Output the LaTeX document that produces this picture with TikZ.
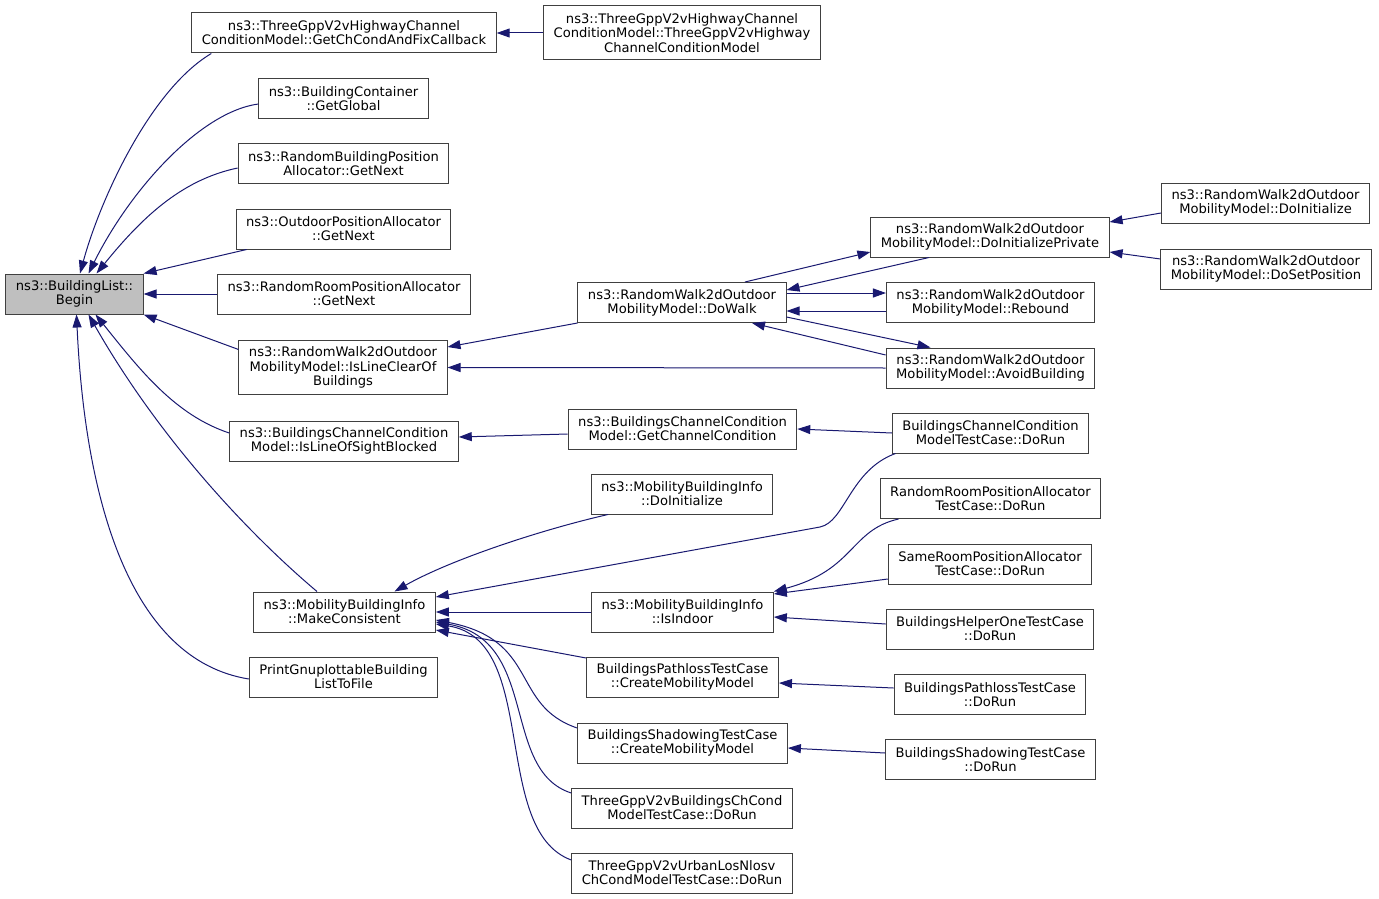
\documentclass[tikz,border=0pt]{standalone}
\usepackage{fontspec}
\setmainfont{DejaVu Sans}
\usetikzlibrary{arrows.meta}
\definecolor{edgeblue}{HTML}{191970}
\definecolor{boxline}{HTML}{404040}

\begin{document}
\begin{tikzpicture}[
  x=1pt, y=-1pt,
  font=\fontsize{13.1}{14.2}\selectfont,
  fn/.style={draw=boxline, line width=1pt, fill=white, align=center, inner xsep=10pt, inner ysep=2pt, minimum height=40pt},
  fn3/.style={fn, minimum height=54pt},
  root/.style={fn, fill=black!25},
  arr/.style={-{Triangle[length=13pt,width=9pt]}, draw=edgeblue, line width=1pt}
]
\useasboundingbox (0,0) rectangle (1379,899);

% root and its direct callers
\node[root] (begin) at (74.5,294) {ns3::BuildingList::\\Begin};
\node[fn] (getChCond) at (344,33) {ns3::ThreeGppV2vHighwayChannel\\ConditionModel::GetChCondAndFixCallback};
\node[fn] (getGlobal) at (343.5,98.5) {ns3::BuildingContainer\\::GetGlobal};
\node[fn] (rbpaNext) at (343.5,163.5) {ns3::RandomBuildingPosition\\Allocator::GetNext};
\node[fn] (opaNext) at (343.5,229) {ns3::OutdoorPositionAllocator\\::GetNext};
\node[fn] (rrpaNext) at (344,294) {ns3::RandomRoomPositionAllocator\\::GetNext};
\node[fn3] (isLineClear) at (343,367.5) {ns3::RandomWalk2dOutdoor\\MobilityModel::IsLineClearOf\\Buildings};
\node[fn] (isLosBlocked) at (344,441) {ns3::BuildingsChannelCondition\\Model::IsLineOfSightBlocked};
\node[fn] (makeCons) at (344.5,612) {ns3::MobilityBuildingInfo\\::MakeConsistent};
\node[fn] (printGnu) at (343.5,677) {PrintGnuplottableBuilding\\ListToFile};

% second column
\node[fn3] (v2vHwCtor) at (682,33) {ns3::ThreeGppV2vHighwayChannel\\ConditionModel::ThreeGppV2vHighway\\ChannelConditionModel};
\node[fn] (doWalk) at (682,302.5) {ns3::RandomWalk2dOutdoor\\MobilityModel::DoWalk};
\node[fn] (getChanCond) at (682.5,429) {ns3::BuildingsChannelCondition\\Model::GetChannelCondition};
\node[fn] (mbiDoInit) at (682,494) {ns3::MobilityBuildingInfo\\::DoInitialize};
\node[fn] (isIndoor) at (682.5,612) {ns3::MobilityBuildingInfo\\::IsIndoor};
\node[fn] (plCreate) at (682.5,677) {BuildingsPathlossTestCase\\::CreateMobilityModel};
\node[fn] (shCreate) at (682.5,743) {BuildingsShadowingTestCase\\::CreateMobilityModel};
\node[fn] (v2vBldRun) at (682,808) {ThreeGppV2vBuildingsChCond\\ModelTestCase::DoRun};
\node[fn] (v2vUrbanRun) at (682,873) {ThreeGppV2vUrbanLosNlosv\\ChCondModelTestCase::DoRun};

% third column
\node[fn] (doInitPriv) at (990,237) {ns3::RandomWalk2dOutdoor\\MobilityModel::DoInitializePrivate};
\node[fn] (rebound) at (990.5,302.5) {ns3::RandomWalk2dOutdoor\\MobilityModel::Rebound};
\node[fn] (avoidBld) at (990.5,368) {ns3::RandomWalk2dOutdoor\\MobilityModel::AvoidBuilding};
\node[fn] (bccRun) at (990.5,433) {BuildingsChannelCondition\\ModelTestCase::DoRun};
\node[fn] (rrpaRun) at (990.5,498.5) {RandomRoomPositionAllocator\\TestCase::DoRun};
\node[fn] (srpaRun) at (990,564) {SameRoomPositionAllocator\\TestCase::DoRun};
\node[fn] (bhRun) at (990,629) {BuildingsHelperOneTestCase\\::DoRun};
\node[fn] (plRun) at (990,694.5) {BuildingsPathlossTestCase\\::DoRun};
\node[fn] (shRun) at (990.5,759.5) {BuildingsShadowingTestCase\\::DoRun};

% fourth column
\node[fn] (rwDoInit) at (1265.5,203) {ns3::RandomWalk2dOutdoor\\MobilityModel::DoInitialize};
\node[fn] (rwDoSetPos) at (1266,269) {ns3::RandomWalk2dOutdoor\\MobilityModel::DoSetPosition};

\coordinate (bccBend) at (820,527);

% edges into Begin
\draw[arr] ([xshift=20pt]getChCond.south west) .. controls (150,90) and (100,200) .. ([xshift=5.5pt]begin.north);
\draw[arr] ([yshift=-5.5pt]getGlobal.west) .. controls (200,112) and (130,190) .. ([xshift=14pt]begin.north);
\draw[arr] ([yshift=-4.5pt]rbpaNext.west) .. controls (180,180) and (140,220) .. ([xshift=22pt]begin.north);
\draw[arr] ([xshift=11pt]opaNext.south west) -- (begin.north east);
\draw[arr] (rrpaNext.west) -- (begin.east);
\draw[arr] ([yshift=18pt]isLineClear.west) -- (begin.south east);
\draw[arr] ([yshift=8pt]isLosBlocked.west) .. controls (175,415) and (140,370) .. ([xshift=21pt]begin.south);
\draw[arr] ([xshift=-27.5pt]makeCons.north) .. controls (250,535) and (160,440) .. ([xshift=14pt]begin.south);
\draw[arr] ([yshift=-2pt]printGnu.west) .. controls (130,660) and (85,500) .. ([xshift=2pt]begin.south);

% upper part
\draw[arr] (v2vHwCtor) -- (getChCond);
\draw[arr] (doWalk.south west) -- ([yshift=20.5pt]isLineClear.east);
\draw[arr] (avoidBld.west) -- (isLineClear.east);
\draw[arr] ([yshift=-5pt]getChanCond.west) -- ([yshift=4pt]isLosBlocked.east);
\draw[arr] (bccRun.west) -- (getChanCond.east);
\draw[arr] ([xshift=-61pt]doInitPriv.south) -- ([yshift=12.5pt]doWalk.east);
\draw[arr] ([xshift=63pt]doWalk.north) -- ([yshift=-15pt]doInitPriv.west);
\draw[arr] ([yshift=9.5pt]doWalk.east) -- ([yshift=9.5pt]rebound.west);
\draw[arr] ([yshift=-8.5pt]rebound.west) -- ([yshift=-8.5pt]doWalk.east);
\draw[arr] ([yshift=-14.5pt]doWalk.east) -- ([xshift=-60pt]avoidBld.north);
\draw[arr] ([yshift=13pt]avoidBld.west) -- ([xshift=70pt]doWalk.south);
\draw[arr] ([yshift=-10pt]rwDoInit.west) -- ([yshift=15pt]doInitPriv.east);
\draw[arr] ([yshift=10pt]rwDoSetPos.west) -- ([yshift=-15pt]doInitPriv.east);

% edges into MakeConsistent
\draw[arr] ([xshift=-74pt]mbiDoInit.south) .. controls (540,530) and (450,560) .. ([xshift=50pt]makeCons.north);
\draw[arr] ([xshift=-95pt]bccRun.south) .. controls (850,470) and (845,522) .. (bccBend) -- ([yshift=15pt]makeCons.east);
\draw[arr] (isIndoor.west) -- (makeCons.east);
\draw[arr] ([yshift=19pt]plCreate.west) -- ([yshift=-18pt]makeCons.east);
\draw[arr] ([yshift=15pt]shCreate.west) .. controls (510,705) and (540,640) .. ([yshift=-8pt]makeCons.east);
\draw[arr] ([yshift=15pt]v2vBldRun.west) .. controls (500,770) and (540,640) .. ([yshift=-10pt]makeCons.east);
\draw[arr] ([yshift=13pt]v2vUrbanRun.west) .. controls (490,830) and (540,640) .. ([yshift=-12pt]makeCons.east);

% lower right
\draw[arr] ([xshift=-92pt]rrpaRun.south) .. controls (850,530) and (855,570) .. (isIndoor.north east);
\draw[arr] ([yshift=-15pt]srpaRun.west) -- ([yshift=18pt]isIndoor.east);
\draw[arr] ([yshift=5pt]bhRun.west) -- ([yshift=-5pt]isIndoor.east);
\draw[arr] ([yshift=6.5pt]plRun.west) -- ([yshift=-6pt]plCreate.east);
\draw[arr] ([yshift=6.5pt]shRun.west) -- ([yshift=-5pt]shCreate.east);
\end{tikzpicture}
\end{document}
